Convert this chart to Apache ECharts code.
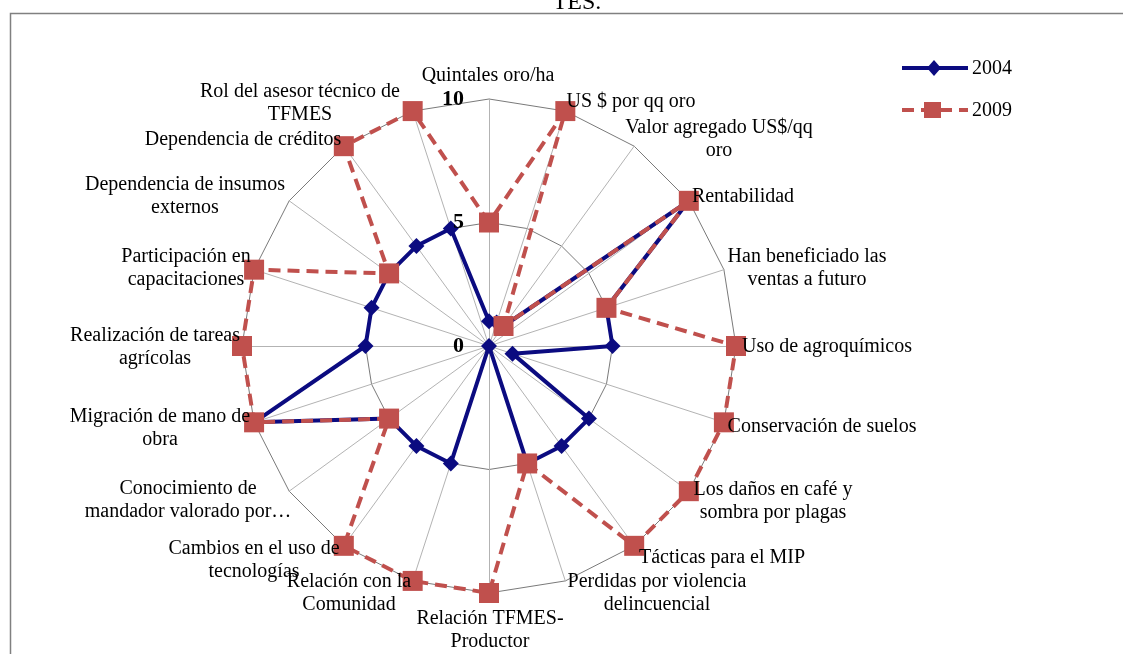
<!DOCTYPE html>
<html>
<head>
<meta charset="utf-8">
<script src="https://cdn.jsdelivr.net/npm/echarts@6/dist/echarts.min.js"></script>
<style>
  html, body { margin: 0; padding: 0; background: #ffffff; }
  #chart { width: 1123px; height: 654px; }
</style>
</head>
<body>
<div id="chart"></div>
<script>
// Indicators, clockwise from the top
const categories = [
  'Quintales oro/ha',
  'US $ por qq oro',
  'Valor agregado US$/qq\noro',
  'Rentabilidad',
  'Han beneficiado las\nventas a futuro',
  'Uso de agroquímicos',
  'Conservación de suelos',
  'Los daños en café y\nsombra por plagas',
  'Tácticas para el MIP',
  'Perdidas por violencia\ndelincuencial',
  'Relación TFMES-\nProductor',
  'Relación con la\nComunidad',
  'Cambios en el uso de\ntecnologías',
  'Conocimiento de\nmandador valorado por…',
  'Migración de mano de\nobra',
  'Realización de tareas\nagrícolas',
  'Participación en\ncapacitaciones',
  'Dependencia de insumos\nexternos',
  'Dependencia de créditos',
  'Rol del asesor técnico de\nTFMES'
];

const values2004 = [1, 1, 1, 10, 5, 5, 1, 5, 5, 5, 0, 5, 5, 5, 10, 5, 5, 5, 5, 5];
const values2009 = [5, 10, 1, 10, 5, 10, 10, 10, 10, 5, 10, 10, 10, 5, 10, 10, 10, 5, 10, 10];

const seriesNames = ['2004', '2009'];
const tickValues = [0, 5, 10];
const axisMin = 0;
const axisMax = 10;
const topText = 'TES.';

// Layout
const CENTER = [489, 346];
const RADIUS = 247;
const LABEL_FONT = '20px "Liberation Serif", "Times New Roman", serif';
const TICK_FONT = 'bold 22px "Liberation Serif", "Times New Roman", serif';
const BLUE = '#0b0b80';
const RED = '#c0504d';
const DASH = [12, 7];

// Centre of each indicator caption block
const labelPos = [
  [488, 76], [631, 102], [719, 139], [743, 197], [807, 268],
  [827, 347], [822, 427], [773, 501], [722, 558], [657, 593],
  [490, 630], [349, 593], [254, 560], [188, 500], [160, 428],
  [155, 347], [186, 268], [185, 196], [243, 140], [300, 103]
];

// ECharts lays radar indicators out counter-clockwise, so keep the first
// one at the top and reverse the rest to run them clockwise.
const order = [0].concat(categories.map((_, i) => i).slice(1).reverse());
const reorder = arr => order.map(i => arr[i]);

const chart = echarts.init(document.getElementById('chart'), null, { renderer: 'canvas' });

const graphics = [];

// frame around the plot area
graphics.push({
  type: 'rect',
  shape: { x: 10.5, y: 13.5, width: 1200, height: 700 },
  style: { fill: null, stroke: '#808080', lineWidth: 1.5 },
  silent: true
});

// clipped caption text above the frame
graphics.push({
  type: 'text',
  style: {
    text: topText, x: 577, y: 15, font: '24px "Liberation Serif", serif',
    fill: '#000', align: 'center', verticalAlign: 'bottom',
    textAlign: 'center', textVerticalAlign: 'bottom'
  },
  silent: true
});

// indicator captions
categories.forEach((name, i) => {
  graphics.push({
    type: 'text',
    z: 10,
    style: {
      text: name, x: labelPos[i][0], y: labelPos[i][1],
      font: LABEL_FONT, fill: '#000', lineHeight: 23,
      align: 'center', verticalAlign: 'middle',
      textAlign: 'center', textVerticalAlign: 'middle'
    },
    silent: true
  });
});

// scale values on the first axis
tickValues.forEach(v => {
  graphics.push({
    type: 'text',
    z: 10,
    style: {
      text: String(v),
      x: CENTER[0] - 25,
      y: CENTER[1] - (v - axisMin) / (axisMax - axisMin) * RADIUS,
      font: TICK_FONT, fill: '#000',
      align: 'right', verticalAlign: 'middle',
      textAlign: 'right', textVerticalAlign: 'middle'
    },
    silent: true
  });
});

// legend keys
const legendX1 = 902, legendX2 = 968, legendTextX = 972;
const legendY = [68, 110];
graphics.push({
  type: 'line',
  shape: { x1: legendX1, y1: legendY[0], x2: legendX2, y2: legendY[0] },
  style: { stroke: BLUE, lineWidth: 4 }, silent: true
});
graphics.push({
  type: 'polygon',
  shape: { points: [[934, legendY[0] - 8], [941, legendY[0]], [934, legendY[0] + 8], [927, legendY[0]]] },
  style: { fill: BLUE }, silent: true
});
graphics.push({
  type: 'line',
  shape: { x1: legendX1, y1: legendY[1], x2: legendX2, y2: legendY[1] },
  style: { stroke: RED, lineWidth: 4, lineDash: DASH }, silent: true
});
graphics.push({
  type: 'rect',
  shape: { x: 924, y: legendY[1] - 8, width: 17, height: 16 },
  style: { fill: RED }, silent: true
});
seriesNames.forEach((n, i) => {
  graphics.push({
    type: 'text',
    style: {
      text: n, x: legendTextX, y: legendY[i] + 1, font: LABEL_FONT, fill: '#000',
      align: 'left', verticalAlign: 'middle',
      textAlign: 'left', textVerticalAlign: 'middle'
    },
    silent: true
  });
});

const option = {
  backgroundColor: '#ffffff',
  animation: false,
  radar: {
    center: CENTER,
    radius: RADIUS,
    startAngle: 90,
    splitNumber: 2,
    shape: 'polygon',
    indicator: reorder(categories).map(n => ({ name: n, min: axisMin, max: axisMax })),
    axisName: { show: false },
    axisLine: { lineStyle: { color: '#b3b3b3', width: 1 } },
    splitLine: { lineStyle: { color: '#7a7a7a', width: 1 } },
    splitArea: { show: false },
    axisTick: { show: false },
    axisLabel: { show: false }
  },
  series: [
    {
      type: 'radar',
      name: seriesNames[0],
      z: 2,
      data: [{
        name: seriesNames[0],
        value: reorder(values2004),
        symbol: 'diamond',
        symbolSize: 16,
        itemStyle: { color: BLUE },
        lineStyle: { color: BLUE, width: 4, type: 'solid' }
      }]
    },
    {
      type: 'radar',
      name: seriesNames[1],
      z: 3,
      data: [{
        name: seriesNames[1],
        value: reorder(values2009),
        symbol: 'rect',
        symbolSize: 20,
        itemStyle: { color: RED },
        lineStyle: { color: RED, width: 4, type: DASH }
      }]
    }
  ],
  graphic: graphics
};

chart.setOption(option);
</script>
</body>
</html>
